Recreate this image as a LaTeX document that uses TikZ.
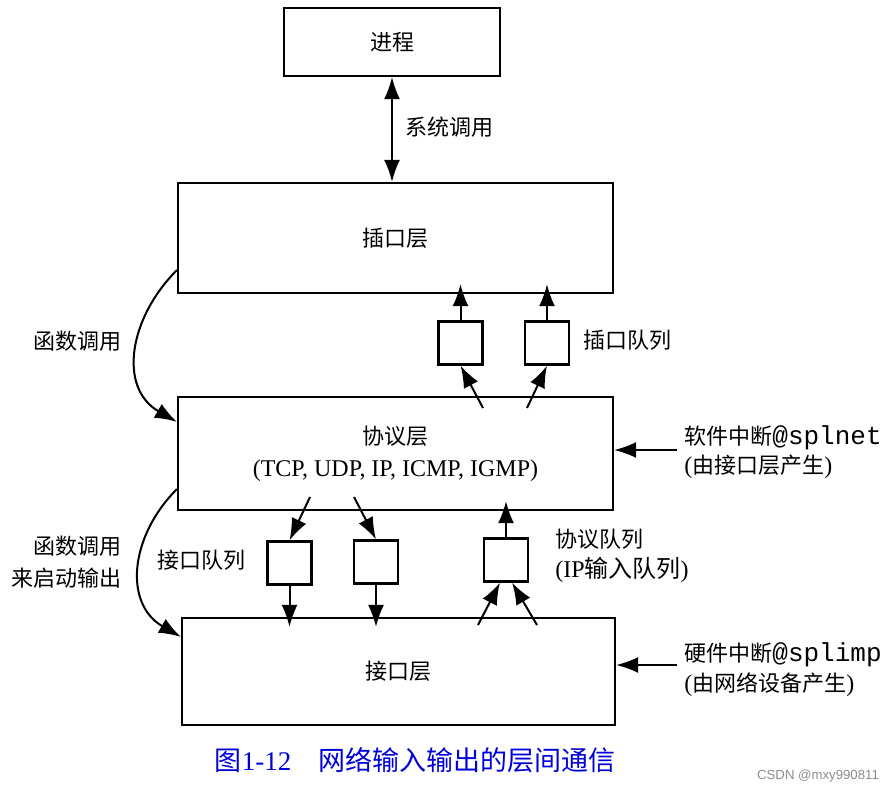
\documentclass[tikz,border=0pt]{standalone}
\usepackage{fontspec}
\setmainfont{Liberation Serif}
\setmonofont{Liberation Mono}
\setsansfont{Liberation Sans}
\newfontfamily\cjk{Noto Sans CJK SC}
\usetikzlibrary{arrows.meta}

\begin{document}
\begin{tikzpicture}[x=0.5pt,y=-0.5pt]
\tikzset{layer/.style = {shape=rectangle,draw,line width=1.1pt,minimum width=217.5pt,minimum height=55pt,font=\fontsize{11}{15}\selectfont,align=center}}
\tikzset{queue/.style = {shape=rectangle,draw,line width=1.1pt,minimum width=22pt,minimum height=21.5pt,inner sep=0pt}}
\tikzset{edge/.style = {-{Latex[length=11pt,width=8pt]},line width=1pt}}
\tikzset{into/.style = {edge,shorten >=-5pt}}
\tikzset{note/.style = {font=\fontsize{11}{15}\selectfont,inner sep=0pt}}
\useasboundingbox (0,0) rectangle (892,793);
% layers
\node[layer,minimum width=108pt,minimum height=34pt] (proc) at (392,42) {\cjk 进程};
\node[layer] (sock) at (395.5,238) {\cjk 插口层};
\node[layer,minimum height=56.5pt] (proto) at (395.5,453.5) {{\cjk 协议层}\\[1pt]{\fontsize{12}{15}\selectfont (TCP, UDP, IP, ICMP, IGMP)}};
\node[layer,minimum width=216.5pt,minimum height=53.5pt] (ifl) at (398.5,671.5) {\cjk 接口层};
% queues
\node[queue] (sq1) at (460.5,343) {};
\node[queue] (sq2) at (547,343) {};
\node[queue] (iq1) at (289.5,563) {};
\node[queue] (iq2) at (376,562) {};
\node[queue] (pq) at (506,560) {};
% labels
\node[note,anchor=west] (sys) at (405,127) {\cjk 系统调用};
\node[note,anchor=east] (call1) at (122,341) {\cjk 函数调用};
\node[note,anchor=east,align=right,font=\fontsize{11}{16}\selectfont] (call2) at (122,562) {\cjk 函数调用\\\cjk 来启动输出};
\node[note,anchor=west] (sqlbl) at (583,340) {\cjk 插口队列};
\node[note,anchor=west] (iqlbl) at (157,560) {\cjk 接口队列};
\node[note,anchor=west,align=left,font=\fontsize{11}{15}\selectfont] (pqlbl) at (555,556) {{\cjk 协议队列}\\{\fontsize{12}{15}\selectfont (IP{\cjk 输入队列})}};
\node[note,anchor=west,align=left,font=\fontsize{11}{14.5}\selectfont] (soft) at (684,452) {{\cjk 软件中断}{\ttfamily\fontsize{13}{14.5}\selectfont @splnet}\\{\fontsize{12}{14.5}\selectfont (}{\cjk 由接口层产生}{\fontsize{12}{14.5}\selectfont )}};
\node[note,anchor=west,align=left,font=\fontsize{11}{15}\selectfont] (hard) at (684,670) {{\cjk 硬件中断}{\ttfamily\fontsize{13}{15}\selectfont @splimp}\\{\fontsize{12}{15}\selectfont (}{\cjk 由网络设备产生}{\fontsize{12}{15}\selectfont )}};
\node[inner sep=0pt,text=blue!85!black,font=\fontsize{13.5}{15}\selectfont] (cap) at (415,760) {{\cjk 图}1-12\quad{\cjk 网络输入输出的层间通信}};
\node[inner sep=0pt,text=black!45,font=\sffamily\fontsize{6.6}{8}\selectfont] (mark) at (818,776) {CSDN @mxy990811};
% free ends
\coordinate (p1) at (483,408);
\coordinate (p2) at (527,408);
\coordinate (p3) at (310,497);
\coordinate (p4) at (354,497);
\coordinate (p5) at (478,625);
\coordinate (p6) at (537,625);
\coordinate (soft in) at (677,450);
\coordinate (hard in) at (677,665);
% connectors
\draw[edge,{Latex[length=11pt,width=8pt]}-{Latex[length=11pt,width=8pt]}] (proc) to (proc |- sock.north);
\draw[into] (sq1) to (sq1 |- sock.south);
\draw[into] (sq2) to (sq2 |- sock.south);
\draw[edge] (p1) to (sq1.south);
\draw[edge] (p2) to (sq2.south);
\draw[edge] (p3) to (iq1.north);
\draw[edge] (p4) to (iq2.north);
\draw[into] (iq1) to (iq1 |- ifl.north);
\draw[into] (iq2) to (iq2 |- ifl.north);
\draw[into] (pq) to (pq |- proto.south);
\draw[edge] (p5) to ([xshift=-3pt]pq.south);
\draw[edge] (p6) to ([xshift=3pt]pq.south);
\draw[edge] (soft in) to (soft in -| proto.east);
\draw[edge] (hard in) to (hard in -| ifl.east);
\draw[edge] ([yshift=12pt]sock.south west) to[out=225,in=150,looseness=1.15] ([yshift=-13pt]proto.north west);
\draw[edge] ([yshift=11pt]proto.south west) to[out=225,in=150,looseness=1.15] ([yshift=-10pt]ifl.north west);
\end{tikzpicture}
\end{document}
